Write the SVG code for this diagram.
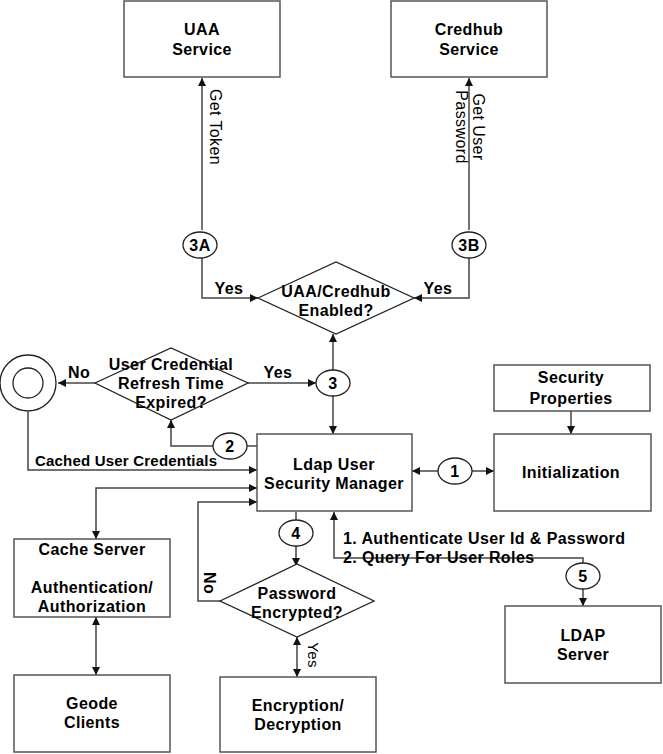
<svg xmlns="http://www.w3.org/2000/svg" width="663" height="754" viewBox="0 0 663 754">
<style>
.box{fill:#fff;stroke:#555;stroke-width:1.5}
.shape{fill:#fff;stroke:#222;stroke-width:1.3}
.ln{fill:none;stroke:#444;stroke-width:1.5}
text{font-family:"Liberation Sans",Arial,sans-serif;font-size:16px;font-weight:bold;fill:#000;text-anchor:middle;letter-spacing:0.4px}
.lbl{text-anchor:start}
.reg{font-weight:normal}
.tight{font-size:15px;letter-spacing:0.2px}
</style>
<defs>
<marker id="ah" viewBox="0 0 10 10" refX="10" refY="5" markerWidth="8" markerHeight="8" markerUnits="userSpaceOnUse" orient="auto-start-reverse">
<path d="M0,0 L10,5 L0,10 z" fill="#111"/>
</marker>
</defs>
<rect width="663" height="754" fill="#fff"/>
<g id="connectors">
<path class="ln" d="M202,230 V78" marker-end="url(#ah)"/>
<path class="ln" d="M202,258 V298 H258" marker-end="url(#ah)"/>
<path class="ln" d="M469,230 V78" marker-end="url(#ah)"/>
<path class="ln" d="M469,258 V298 H414" marker-end="url(#ah)"/>
<path class="ln" d="M333,370 V334" marker-end="url(#ah)"/>
<path class="ln" d="M333,396 V434" marker-end="url(#ah)"/>
<path class="ln" d="M248,383 H316" marker-end="url(#ah)"/>
<path class="ln" d="M95,383 H58" marker-end="url(#ah)"/>
<path class="ln" d="M28,412 V470 H257" marker-end="url(#ah)"/>
<path class="ln" d="M257,446 H247"/>
<path class="ln" d="M213,446 H171 V420" marker-end="url(#ah)"/>
<path class="ln" d="M438,471 H412" marker-end="url(#ah)"/>
<path class="ln" d="M472,471 H494" marker-end="url(#ah)"/>
<path class="ln" d="M571,411 V434" marker-end="url(#ah)"/>
<path class="ln" d="M296,512 V520"/>
<path class="ln" d="M296,546 V566" marker-end="url(#ah)"/>
<path class="ln" d="M220,601 H198 V502 H257" marker-end="url(#ah)"/>
<path class="ln" d="M297,637 V677" marker-start="url(#ah)" marker-end="url(#ah)"/>
<path class="ln" d="M257,488 H96 V539" marker-start="url(#ah)" marker-end="url(#ah)"/>
<path class="ln" d="M96,617 V675" marker-start="url(#ah)" marker-end="url(#ah)"/>
<path class="ln" d="M583,563 V558 H334 V512" marker-end="url(#ah)"/>
<path class="ln" d="M583,589 V606" marker-end="url(#ah)"/>
<text class="reg" transform="translate(210,127) rotate(90)">Get Token</text>
<text class="reg" transform="translate(469,127) rotate(90)"><tspan x="0" y="-4">Get User</tspan><tspan x="0" y="13">Password</tspan></text>
<text x="229" y="294">Yes</text>
<text x="438" y="294">Yes</text>
<text x="278" y="378">Yes</text>
<text x="79" y="378">No</text>
<text class="lbl tight" x="35" y="466">Cached User Credentials</text>
<text class="lbl" x="343" y="544">1. Authenticate User Id &amp; Password</text>
<text class="lbl" x="343" y="563">2. Query For User Roles</text>
<text transform="translate(204,583) rotate(90)">No</text>
<text class="reg" transform="translate(308,655) rotate(90)" style="font-size:15px">Yes</text>
</g>
<g id="uaa"><rect class="box" x="124" y="1" width="156" height="76"/><text x="202" y="35">UAA</text><text x="202" y="55">Service</text></g>
<g id="credhub"><rect class="box" x="391" y="1" width="156" height="76"/><text x="469" y="35">Credhub</text><text x="469" y="55">Service</text></g>
<g id="c3a"><ellipse class="shape" cx="200" cy="245" rx="17" ry="13"/><text x="200" y="251">3A</text></g>
<g id="c3b"><ellipse class="shape" cx="469" cy="245" rx="17" ry="13"/><text x="469" y="251">3B</text></g>
<g id="d-uaa"><polygon class="shape" points="258,298 336,262 414,298 336,334"/><text x="336" y="297">UAA/Credhub</text><text x="336" y="316">Enabled?</text></g>
<g id="c3"><ellipse class="shape" cx="333" cy="383" rx="17" ry="13"/><text x="333" y="389">3</text></g>
<g id="d-refresh"><polygon class="shape" points="95,383 171,348 248,383 171,420"/><text x="171" y="370">User Credential</text><text x="171" y="389">Refresh Time</text><text x="171" y="408">Expired?</text></g>
<g id="end"><circle class="shape" cx="28" cy="383" r="28"/><circle class="shape" cx="28" cy="383" r="15"/></g>
<g id="c2"><ellipse class="shape" cx="230" cy="446" rx="17" ry="13"/><text x="230" y="452">2</text></g>
<g id="lsm"><rect class="box" x="257" y="434" width="155" height="77"/><text x="334" y="470">Ldap User</text><text x="334" y="489">Security Manager</text></g>
<g id="c1"><ellipse class="shape" cx="455" cy="471" rx="17" ry="13"/><text x="455" y="477">1</text></g>
<g id="secprops"><rect class="box" x="494" y="365" width="156" height="46"/><text x="571" y="383">Security</text><text x="571" y="404">Properties</text></g>
<g id="init"><rect class="box" x="494" y="434" width="157" height="77"/><text x="571" y="478">Initialization</text></g>
<g id="c4"><ellipse class="shape" cx="296" cy="533" rx="17" ry="13"/><text x="296" y="539">4</text></g>
<g id="d-pwd"><polygon class="shape" points="220,601 297,564 374,601 297,637"/><text x="297" y="599">Password</text><text x="297" y="618">Encrypted?</text></g>
<g id="enc"><rect class="box" x="220" y="677" width="156" height="75"/><text x="298" y="711">Encryption/</text><text x="298" y="730">Decryption</text></g>
<g id="cache"><rect class="box" x="14" y="539" width="156" height="78"/><text x="92" y="555">Cache Server</text><text x="92" y="593">Authentication/</text><text x="92" y="612">Authorization</text></g>
<g id="geode"><rect class="box" x="14" y="675" width="156" height="77"/><text x="92" y="709">Geode</text><text x="92" y="728">Clients</text></g>
<g id="c5"><ellipse class="shape" cx="583" cy="576" rx="17" ry="13"/><text x="583" y="582">5</text></g>
<g id="ldap"><rect class="box" x="505" y="606" width="156" height="77"/><text x="583" y="641">LDAP</text><text x="583" y="660">Server</text></g>
</svg>
